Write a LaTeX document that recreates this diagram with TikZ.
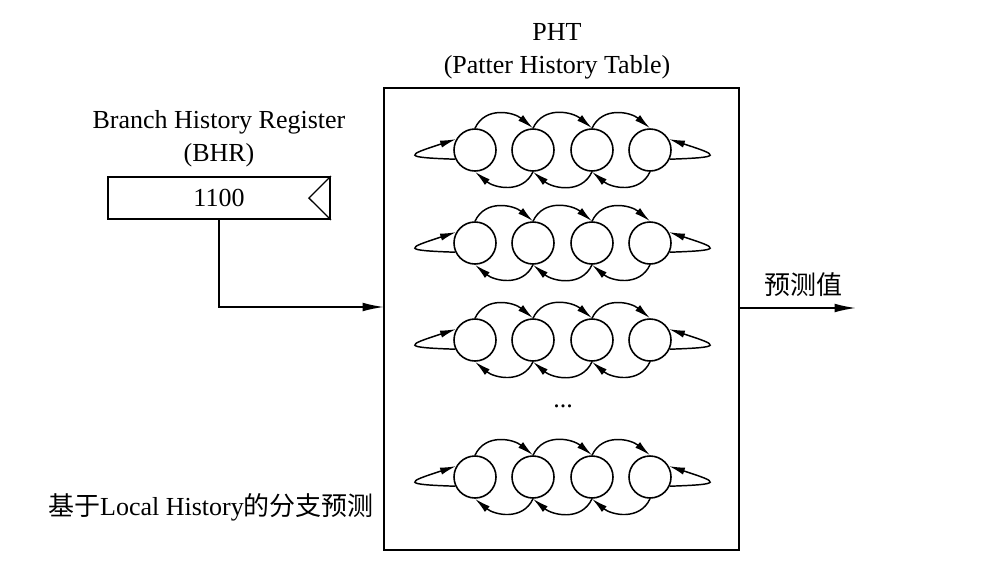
\documentclass[tikz,border=0pt]{standalone}
\usepackage{fontspec}
\setmainfont{Liberation Serif}
\newfontfamily\cjk{Noto Sans CJK SC}
\usetikzlibrary{arrows.meta}
\begin{document}
\begin{tikzpicture}[x=0.75pt,y=-0.75pt,
  every node/.style={font=\fontsize{19.5}{23}\selectfont},
  st/.style={circle,draw,line width=1.2pt,minimum size=31.5pt,inner sep=0pt},
  tr/.style={line width=1.1pt,-{Latex[length=12pt,width=5.5pt]}},
  conn/.style={line width=1.2pt,-{Latex[length=16pt,width=6.5pt]}},
  box/.style={draw,line width=1.4pt,inner sep=0pt}]
\useasboundingbox (0,0) rectangle (1002,572);
\node[box,minimum width=266.25pt,minimum height=346.5pt] (pht) at (561.5,319) {};
\node (phtt) at (557,32) {PHT};
\node (phts) at (557,67) {(Patter History Table)};
\node (bhrt) at (219,122) {Branch History Register};
\node (bhra) at (219,155) {(BHR)};
\node[box,minimum width=166.5pt,minimum height=31.5pt] (bhr) at (219,198) {1100};
\draw[line width=1pt] (bhr.north east) -- ([xshift=-16.5pt]bhr.east) -- (bhr.south east);
\coordinate (in) at (384,307);
\draw[conn] (bhr.south) |- (in);
\coordinate (out) at (856,308);
\draw[conn] (pht.east |- out) -- (out);
\node (pred) at (803,285) {\cjk 预测值};
\node (cap) at (211,507) {{\cjk 基于}Local History{\cjk 的分支预测}};
\node (dots) at (563,406) {...};
\foreach \r/\y in {1/150,2/243,3/340,4/477}{
  \foreach \c/\x in {1/475,2/533,3/592,4/650}{
    \node[st] (s\r\c) at (\x,\y) {};
  }
  \foreach \a/\b in {1/2,2/3,3/4}{
    \draw[tr] (s\r\a.north) to[out=65,in=140,looseness=1.1] (s\r\b.north);
    \draw[tr] (s\r\b.south) to[out=-115,in=-40,looseness=1.1] (s\r\a.south);
  }
  \draw[tr] (s\r1.205) .. controls +(178:40pt) and +(198:40pt) .. (s\r1.150);
  \draw[tr] (s\r4.-25) .. controls +(2:40pt) and +(-18:40pt) .. (s\r4.30);
}
\end{tikzpicture}
\end{document}
